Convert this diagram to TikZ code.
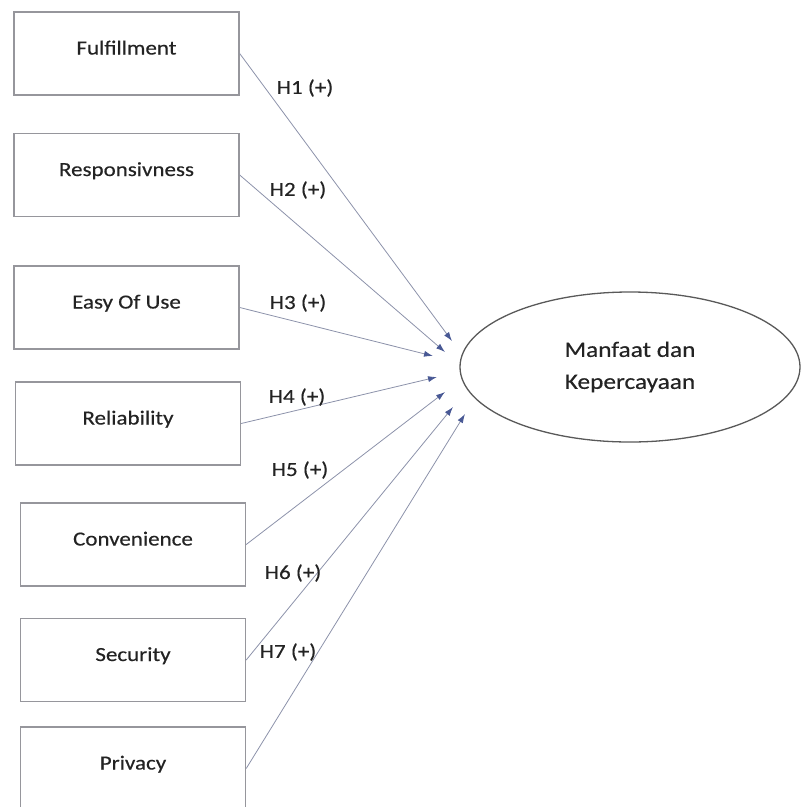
\documentclass[tikz,border=0pt]{standalone}
\usepackage{fontspec}
\setmainfont{Carlito}[FakeStretch=1.15,FakeBold=0.4]
\usetikzlibrary{arrows.meta,shapes.geometric}
\definecolor{boxgray}{RGB}{150,150,156}
\definecolor{linegray}{RGB}{140,146,170}
\definecolor{tipblue}{RGB}{72,88,148}
\definecolor{textgray}{RGB}{35,35,35}

\begin{document}
\begin{tikzpicture}[
  x=1pt,y=-1pt,
  every node/.style={text=textgray,font=\fontsize{20}{24}\selectfont},
  factor/.style={draw=boxgray,line width=1.4pt,minimum width=225pt,minimum height=83pt,
    inner sep=0pt,text height=9pt,text depth=7pt},
  goal/.style={draw=black!65,line width=1.3pt,ellipse,minimum width=340pt,minimum height=150pt,
    inner sep=0pt,align=center,font=\fontsize{22}{32}\selectfont},
  hyp/.style={inner sep=0pt},
  to/.style={-{Latex[length=9pt,width=6pt,color=tipblue]},draw=linegray,line width=0.8pt}]

  \useasboundingbox (0,0) rectangle (801,807);
  \clip (0,0) rectangle (801,807);

  % Factors on the left
  \node[factor] (ful) at (126.5,53.5) {Fulfillment};
  \node[factor] (res) at (126.5,175) {Responsivness};
  \node[factor] (eou) at (126.5,307.5) {Easy Of Use};
  \node[factor] (rel) at (128,423.5) {Reliability};
  \node[factor] (con) at (133,544.5) {Convenience};
  \node[factor] (sec) at (133,660) {Security};
  \node[factor] (pri) at (133,768.5) {Privacy};

  % Outcome
  \node[goal] (mk) at (630,367) {Manfaat dan\\Kepercayaan};

  % Arrow tips, short of the ellipse
  \coordinate (t1) at (452,341);
  \coordinate (t2) at (445,352);
  \coordinate (t3) at (433,356);
  \coordinate (t4) at (437,377);
  \coordinate (t5) at (445,392);
  \coordinate (t6) at (453,407);
  \coordinate (t7) at (465,414);

  % Hypotheses
  \draw[to] (ful.east) -- (t1);
  \draw[to] (res.east) -- (t2);
  \draw[to] (eou.east) -- (t3);
  \draw[to] (rel.east) -- (t4);
  \draw[to] (con.east) -- (t5);
  \draw[to] (sec.east) -- (t6);
  \draw[to] (pri.east) -- (t7);

  \node[hyp] (h1) at (305,88) {H1 (+)};
  \node[hyp] (h2) at (298,190) {H2 (+)};
  \node[hyp] (h3) at (298,303) {H3 (+)};
  \node[hyp] (h4) at (297,397) {H4 (+)};
  \node[hyp] (h5) at (300,470) {H5 (+)};
  \node[hyp] (h6) at (293,573) {H6 (+)};
  \node[hyp] (h7) at (288,652) {H7 (+)};
\end{tikzpicture}
\end{document}
